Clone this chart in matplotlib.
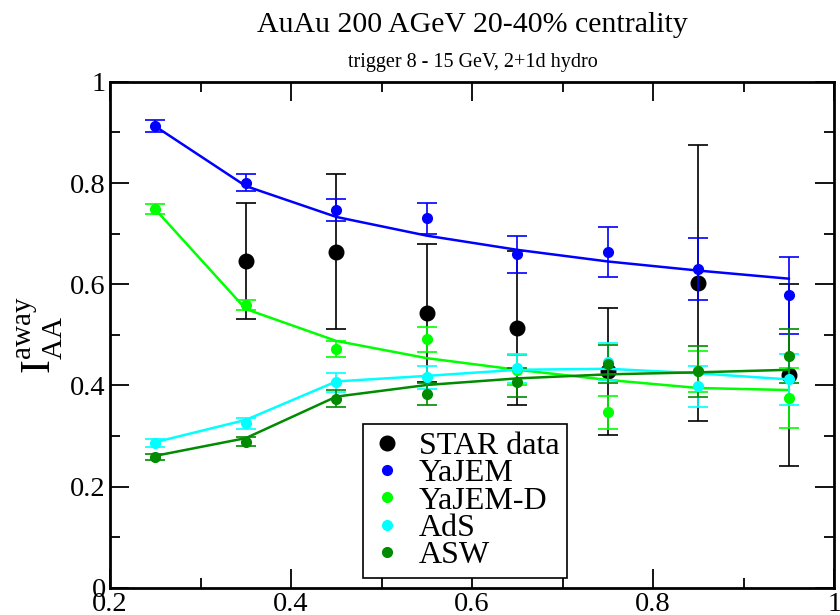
import matplotlib
matplotlib.use('Agg')
import matplotlib.pyplot as plt
from matplotlib.ticker import MultipleLocator

plt.rcParams['font.family'] = ['Liberation Serif', 'DejaVu Serif']
plt.rcParams['mathtext.fontset'] = 'custom'
plt.rcParams['mathtext.rm'] = 'Liberation Serif'

# ---- data ----
x_model = [0.25, 0.35, 0.45, 0.55, 0.65, 0.75, 0.85, 0.95]

star_x = [0.35, 0.45, 0.55, 0.65, 0.75, 0.85, 0.95]
star_y = [0.646, 0.664, 0.543, 0.514, 0.428, 0.603, 0.420]
star_err = [0.115, 0.153, 0.137, 0.152, 0.125, 0.273, 0.180]

yajem_y = [0.912, 0.801, 0.746, 0.730, 0.659, 0.664, 0.630, 0.578]
yajem_err = [0.012, 0.016, 0.022, 0.031, 0.037, 0.049, 0.062, 0.076]
yajem_line = [0.912, 0.794, 0.733, 0.696, 0.668, 0.645, 0.627, 0.611]

yajemd_y = [0.748, 0.559, 0.472, 0.491, 0.430, 0.347, 0.428, 0.375]
yajemd_err = [0.010, 0.010, 0.015, 0.024, 0.030, 0.033, 0.040, 0.059]
yajemd_line = [0.748, 0.551, 0.488, 0.454, 0.431, 0.411, 0.395, 0.391]

ads_y = [0.286, 0.325, 0.406, 0.416, 0.434, 0.447, 0.398, 0.412]
ads_err = [0.008, 0.010, 0.018, 0.023, 0.029, 0.037, 0.040, 0.050]
ads_line = [0.288, 0.332, 0.408, 0.419, 0.431, 0.433, 0.424, 0.412]

asw_y = [0.258, 0.289, 0.374, 0.383, 0.406, 0.442, 0.428, 0.458]
asw_err = [0.006, 0.009, 0.017, 0.022, 0.028, 0.038, 0.050, 0.054]
asw_line = [0.261, 0.296, 0.378, 0.401, 0.414, 0.422, 0.426, 0.431]

models = [
    ('YaJEM', yajem_y, yajem_err, yajem_line, '#0000ff'),
    ('YaJEM-D', yajemd_y, yajemd_err, yajemd_line, '#00ff00'),
    ('AdS', ads_y, ads_err, ads_line, '#00ffff'),
    ('ASW', asw_y, asw_err, asw_line, '#008b00'),
]

fig = plt.figure(figsize=(8.4, 6.15), dpi=100)
ax = fig.add_axes([0.131, 0.044, 0.862, 0.823])

# STAR data first (drawn underneath the models)
ax.errorbar(star_x, star_y, yerr=star_err, fmt='o', color='black',
            markersize=10.5, elinewidth=1.2, capsize=7.5, capthick=1.2,
            label='STAR data', zorder=2)

for name, y, err, line, col in models:
    ax.plot(x_model, line, '-', color=col, linewidth=1.8, zorder=3)
    ax.errorbar(x_model, y, yerr=err, fmt='o', color=col, markersize=7,
                elinewidth=1.2, capsize=7, capthick=1.2, label=name, zorder=4)

ax.set_xlim(0.2, 1.0)
ax.set_ylim(0, 1)
ax.xaxis.set_minor_locator(MultipleLocator(0.1))
ax.yaxis.set_minor_locator(MultipleLocator(0.1))
ax.set_xticks([0.2, 0.4, 0.6, 0.8, 1.0])
ax.set_xticklabels(['0.2', '0.4', '0.6', '0.8', '1'])
ax.set_yticks([0, 0.2, 0.4, 0.6, 0.8, 1.0])
ax.set_yticklabels(['0', '0.2', '0.4', '0.6', '0.8', '1'])

ax.tick_params(which='both', direction='in', top=True, right=True,
               labelsize=20.5, width=1.3, pad=3)
ax.tick_params(which='major', length=14)
ax.tick_params(which='minor', length=7)
for sp in ax.spines.values():
    sp.set_linewidth(2)

ax.set_ylabel(r'$\mathrm{I}_{\mathrm{AA}}^{\mathrm{away}}$', fontsize=30, labelpad=4)

fig.text(0.5625, 0.948, 'AuAu 200 AGeV 20-40% centrality', ha='center', va='baseline', fontsize=21.5)
fig.text(0.5625, 0.891, 'trigger 8 - 15 GeV, 2+1d hydro', ha='center', va='baseline', fontsize=14.5)

handles, labels = ax.get_legend_handles_labels()
handles = [h[0] for h in handles]
leg = ax.legend(handles, labels, loc='lower left', bbox_to_anchor=(0.349, 0.02),
                fontsize=23, frameon=True, fancybox=False, framealpha=1,
                edgecolor='black', handlelength=1.0, handletextpad=0.5,
                labelspacing=-0.07, borderpad=0.25, borderaxespad=0)
leg.get_frame().set_linewidth(1.2)

fig.savefig('out.png', dpi=100)
